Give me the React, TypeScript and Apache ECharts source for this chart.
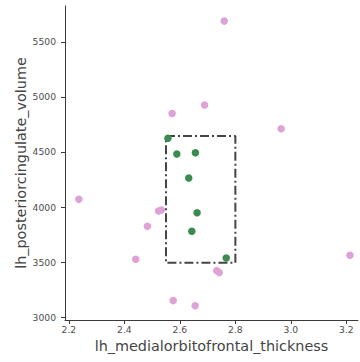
import React, { useEffect, useRef } from "react";
import * as echarts from "echarts";

const xTicks = [2.2, 2.4, 2.6, 2.8, 3.0, 3.2];
const yTicks = [3000, 3500, 4000, 4500, 5000, 5500];

const pinkX = [2.760, 2.689, 2.965, 2.572, 2.236, 2.523, 2.533, 2.483, 2.441, 2.576, 2.655, 2.733, 2.742, 3.213];
const pinkY = [5688, 4926, 4711, 4850, 4070, 3964, 3973, 3825, 3526, 3151, 3105, 3423, 3405, 3562];

const greenX = [2.557, 2.589, 2.656, 2.632, 2.662, 2.643, 2.767];
const greenY = [4624, 4481, 4493, 4264, 3949, 3780, 3538];

const boxX = [2.55, 2.80];
const boxY = [3495, 4645];

const xName = "lh_medialorbitofrontal_thickness";
const yName = "lh_posteriorcingulate_volume";

export default function App() {
  const ref = useRef<HTMLDivElement>(null);
  useEffect(() => {
    document.body.style.margin = "0";
    const chart = echarts.init(ref.current!, undefined, { renderer: "svg" });
    const font = "DejaVu Sans";
    const axisColor = "#3a3a3a";
    const labelColor = "#4d4d4d";
    const boxData = [
      [boxX[0], boxY[1]],
      [boxX[1], boxY[1]],
      [boxX[1], boxY[0]],
      [boxX[0], boxY[0]],
      [boxX[0], boxY[1]],
    ];
    chart.setOption({
      animation: false,
      backgroundColor: "#ffffff",
      grid: { left: 65, top: 6, right: 2, bottom: 42, containLabel: false, outerBoundsMode: "none" },
      xAxis: {
        type: "value",
        min: 2.186,
        max: 3.242,
        name: xName,
        nameLocation: "middle",
        nameGap: 19,
        nameMoveOverlap: false,
        nameTextStyle: { fontFamily: font, fontSize: 14.4, color: "#444" },
        splitLine: { show: false },
        axisLine: { show: true, lineStyle: { color: axisColor, width: 1 } },
        axisTick: { show: true, length: 4, customValues: xTicks, lineStyle: { color: axisColor } },
        axisLabel: {
          customValues: xTicks,
          margin: 5,
          fontFamily: font,
          fontSize: 9.2,
          color: labelColor,
          formatter: (v: number) => v.toFixed(1),
        },
      },
      yAxis: {
        type: "value",
        min: 2975,
        max: 5825,
        name: yName,
        nameLocation: "middle",
        nameGap: 37,
        nameMoveOverlap: false,
        nameTextStyle: { fontFamily: font, fontSize: 14.4, color: "#444" },
        splitLine: { show: false },
        axisLine: { show: true, lineStyle: { color: axisColor, width: 1 } },
        axisTick: { show: true, length: 4, customValues: yTicks, lineStyle: { color: axisColor } },
        axisLabel: {
          customValues: yTicks,
          margin: 9,
          fontFamily: font,
          fontSize: 9.2,
          color: labelColor,
          formatter: (v: number) => String(v),
        },
      },
      series: [
        {
          type: "line",
          data: boxData,
          showSymbol: false,
          symbol: "none",
          lineStyle: { color: "#444", width: 2, type: [9, 3, 2, 3] },
          z: 1,
          silent: true,
        },
        {
          type: "scatter",
          data: pinkX.map((x, i) => [x, pinkY[i]]),
          symbolSize: 7.5,
          itemStyle: { color: "#dfa2d6", opacity: 1 },
          z: 2,
        },
        {
          type: "scatter",
          data: greenX.map((x, i) => [x, greenY[i]]),
          symbolSize: 7.5,
          itemStyle: { color: "#3b8a50", opacity: 1 },
          z: 3,
        },
      ],
    });
    return () => chart.dispose();
  }, []);
  return (
    <div
      ref={ref}
      style={{ position: "absolute", left: 0, top: 0, width: 360, height: 362 }}
    />
  );
}
